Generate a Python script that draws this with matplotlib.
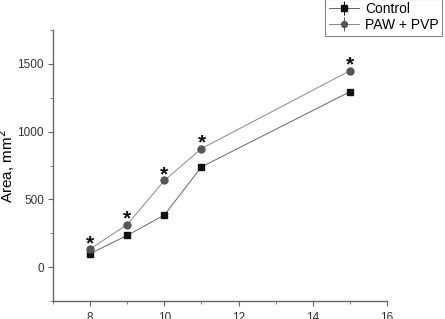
import matplotlib
matplotlib.use("Agg")
import matplotlib.pyplot as plt
from matplotlib.ticker import MultipleLocator

# days and wound area values
days = [8, 9, 10, 11, 15]
control = [100, 235, 385, 740, 1295]
control_err = [15, 15, 15, 15, 20]
paw_pvp = [135, 315, 640, 875, 1450]
paw_pvp_err = [15, 20, 15, 15, 20]
star_offset = 40

plt.rcParams["font.family"] = ["Liberation Sans", "DejaVu Sans"]

fig = plt.figure(figsize=(4.45, 3.19), dpi=100)
ax = fig.add_axes([0.119, 0.056, 0.751, 0.85])

ax.errorbar(days, control, yerr=control_err, color="#666666", lw=0.7,
            marker="s", ms=4.5, mfc="#111111", mec="#111111",
            ecolor="#111111", capsize=0, label="Control")
ax.errorbar(days, paw_pvp, yerr=paw_pvp_err, color="#888888", lw=0.7,
            marker="o", ms=5, mfc="#555555", mec="#555555",
            ecolor="#555555", capsize=0, label="PAW + PVP")

for x, y in zip(days, paw_pvp):
    ax.text(x, y + star_offset, "*", ha="center", va="center", fontsize=15,
            fontweight="bold", color="#111111")

ax.set_xlim(7, 16)
ax.set_ylim(-250, 1750)
ax.xaxis.set_major_locator(MultipleLocator(2))
ax.xaxis.set_minor_locator(MultipleLocator(1))
ax.yaxis.set_major_locator(MultipleLocator(500))
ax.yaxis.set_minor_locator(MultipleLocator(250))

for s in ["top", "right"]:
    ax.spines[s].set_visible(False)
for s in ["left", "bottom"]:
    ax.spines[s].set_color("#666666")
    ax.spines[s].set_linewidth(1.0)
ax.tick_params(which="major", direction="out", length=3.5, color="#666666",
               labelsize=8.5, labelcolor="#333333")
ax.tick_params(axis="y", pad=3)
ax.tick_params(axis="x", pad=4)
ax.tick_params(which="minor", direction="out", length=2, color="#666666")

ax.set_ylabel("Area, mm$^2$", fontsize=11)
ax.yaxis.set_label_coords(-0.108, 0.5)

leg = fig.legend(loc="upper right", bbox_to_anchor=(0.993, 1.004),
                 frameon=True, fancybox=False, fontsize=10, handlelength=2.2,
                 borderpad=0.25, borderaxespad=0, labelspacing=0.15,
                 handletextpad=0.4, markerscale=0.85)
leg.get_frame().set_edgecolor("#666666")
leg.get_frame().set_linewidth(0.8)

fig.savefig("out.png", dpi=100)
